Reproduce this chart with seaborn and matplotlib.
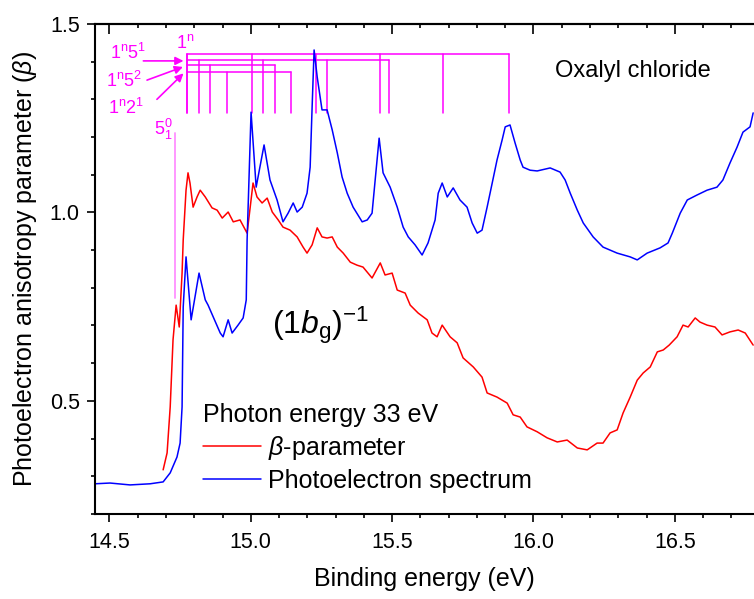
import numpy as np
import pandas as pd
import matplotlib
matplotlib.use("Agg")
import matplotlib.pyplot as plt
from matplotlib.ticker import MultipleLocator, FormatStrFormatter
import seaborn as sns

# --- data ---
pes_energy = [14.449, 14.502, 14.573, 14.644, 14.690, 14.715, 14.739, 14.750, 14.757, 14.761,
              14.771, 14.789, 14.817, 14.839, 14.849, 14.867, 14.892, 14.902, 14.920, 14.934,
              14.955, 14.973, 14.984, 14.987, 15.001, 15.019, 15.047, 15.068, 15.093, 15.114,
              15.132, 15.150, 15.164, 15.182, 15.199, 15.210, 15.217, 15.224, 15.235, 15.252,
              15.270, 15.288, 15.306, 15.323, 15.341, 15.362, 15.394, 15.412, 15.429, 15.440,
              15.454, 15.468, 15.493, 15.518, 15.539, 15.557, 15.581, 15.606, 15.627, 15.652,
              15.663, 15.677, 15.695, 15.716, 15.740, 15.765, 15.783, 15.801, 15.818, 15.836,
              15.854, 15.871, 15.889, 15.900, 15.917, 15.935, 15.953, 15.963, 15.988, 16.013,
              16.059, 16.094, 16.112, 16.130, 16.155, 16.176, 16.211, 16.246, 16.296, 16.342,
              16.367, 16.402, 16.448, 16.476, 16.491, 16.519, 16.544, 16.578, 16.614, 16.649,
              16.670, 16.695, 16.720, 16.741, 16.766, 16.777]
pes_signal = [0.280, 0.282, 0.277, 0.280, 0.285, 0.309, 0.351, 0.388, 0.484, 0.749,
              0.882, 0.715, 0.839, 0.768, 0.754, 0.723, 0.680, 0.670, 0.715, 0.680,
              0.701, 0.720, 0.768, 0.927, 1.266, 1.067, 1.179, 1.086, 1.033, 0.975,
              0.998, 1.025, 1.001, 1.014, 1.051, 1.120, 1.280, 1.431, 1.359, 1.272,
              1.272, 1.219, 1.158, 1.094, 1.051, 1.014, 0.975, 0.980, 0.998, 1.086,
              1.197, 1.105, 1.067, 1.014, 0.961, 0.935, 0.914, 0.887, 0.919, 0.980,
              1.051, 1.078, 1.041, 1.065, 1.033, 1.014, 0.972, 0.945, 0.953, 1.014,
              1.078, 1.139, 1.192, 1.227, 1.232, 1.184, 1.139, 1.120, 1.112, 1.110,
              1.118, 1.107, 1.086, 1.051, 1.006, 0.972, 0.935, 0.908, 0.892, 0.882,
              0.874, 0.892, 0.906, 0.919, 0.945, 0.998, 1.033, 1.046, 1.059, 1.067,
              1.086, 1.131, 1.173, 1.213, 1.227, 1.264]

beta_energy = [14.690, 14.704, 14.715, 14.725, 14.736, 14.747, 14.757, 14.761, 14.771, 14.778,
               14.785, 14.796, 14.810, 14.821, 14.839, 14.863, 14.881, 14.899, 14.920, 14.938,
               14.962, 14.987, 14.998, 15.008, 15.022, 15.040, 15.058, 15.076, 15.097, 15.114,
               15.139, 15.164, 15.185, 15.199, 15.217, 15.235, 15.252, 15.270, 15.288, 15.306,
               15.327, 15.352, 15.376, 15.397, 15.429, 15.458, 15.475, 15.500, 15.518, 15.546,
               15.564, 15.592, 15.624, 15.641, 15.659, 15.677, 15.705, 15.730, 15.751, 15.787,
               15.818, 15.836, 15.871, 15.907, 15.928, 15.953, 15.977, 16.013, 16.048, 16.084,
               16.119, 16.155, 16.190, 16.225, 16.246, 16.271, 16.296, 16.317, 16.342, 16.367,
               16.388, 16.413, 16.438, 16.459, 16.480, 16.508, 16.529, 16.547, 16.572, 16.589,
               16.614, 16.642, 16.667, 16.695, 16.724, 16.749, 16.777]
beta_value = [0.317, 0.362, 0.484, 0.662, 0.754, 0.696, 0.839, 0.927, 1.059, 1.105,
              1.078, 1.014, 1.041, 1.059, 1.041, 1.012, 1.006, 0.985, 1.001, 0.975,
              0.980, 0.945, 1.014, 1.078, 1.041, 1.025, 1.038, 1.001, 0.980, 0.961,
              0.953, 0.935, 0.908, 0.892, 0.914, 0.959, 0.935, 0.932, 0.935, 0.908,
              0.892, 0.868, 0.860, 0.855, 0.826, 0.866, 0.834, 0.839, 0.794, 0.786,
              0.754, 0.733, 0.715, 0.680, 0.670, 0.701, 0.670, 0.654, 0.614, 0.590,
              0.563, 0.521, 0.510, 0.494, 0.463, 0.457, 0.431, 0.418, 0.402, 0.391,
              0.396, 0.375, 0.370, 0.388, 0.388, 0.415, 0.423, 0.468, 0.510, 0.555,
              0.574, 0.590, 0.630, 0.635, 0.648, 0.670, 0.701, 0.696, 0.720, 0.709,
              0.701, 0.696, 0.675, 0.683, 0.688, 0.680, 0.648]

# vibrational progressions (comb positions, eV) and the heights of their bars
comb_1n = [14.774, 15.005, 15.231, 15.458, 15.680, 15.914]
comb_1n5_1 = [14.816, 15.045, 15.269, 15.490]
comb_1n5_2 = [14.857, 15.084]
comb_1n2_1 = [14.915, 15.144]
comb_levels = [1.420, 1.404, 1.390, 1.373]
comb_bottom = 1.264
hot_band = 14.732

# --- style ---
sns.set_style("ticks")
plt.rcParams["font.family"] = ["Liberation Sans", "DejaVu Sans"]
plt.rcParams["mathtext.fontset"] = "custom"
plt.rcParams["mathtext.rm"] = "Liberation Sans"
plt.rcParams["mathtext.it"] = "Liberation Sans:italic"
plt.rcParams["mathtext.default"] = "regular"
for key in ["text.color", "axes.labelcolor", "xtick.color", "ytick.color", "axes.edgecolor"]:
    plt.rcParams[key] = "black"

fig = plt.figure(figsize=(7.54, 5.99), dpi=100)
ax = fig.add_axes([0.126, 0.142, 0.874, 0.818])

mag = "#ff00ff"

# progression combs
origin = comb_1n[0]
for comb, lev in zip([comb_1n, comb_1n5_1, comb_1n5_2, comb_1n2_1], comb_levels):
    ax.plot([origin, comb[-1]], [lev, lev], color=mag, lw=1.1)
    for e in comb:
        ax.plot([e, e], [lev, comb_bottom], color=mag, lw=1.1)
ax.plot([origin, origin], [comb_levels[0], comb_bottom], color=mag, lw=1.1)
ax.plot([hot_band, hot_band], [1.211, 0.773], color="#ff90ff", lw=1.3)

sns.lineplot(x=beta_energy, y=beta_value, color="#ff0000", lw=1.1, ax=ax,
             label=r"$\mathit{\beta}$-parameter", estimator=None)
sns.lineplot(x=pes_energy, y=pes_signal, color="#0000ff", lw=1.1, ax=ax,
             label="Photoelectron spectrum", estimator=None)

# labels for the combs
fs_ann = 13
ax.text(14.768, 1.449, r"$1^{n}$", color=mag, fontsize=fs_ann, ha="center", va="center")
ax.text(14.566, 1.423, r"$1^{n}5^{1}$", color=mag, fontsize=fs_ann, ha="center", va="center")
ax.text(14.552, 1.349, r"$1^{n}5^{2}$", color=mag, fontsize=fs_ann, ha="center", va="center")
ax.text(14.559, 1.277, r"$1^{n}2^{1}$", color=mag, fontsize=fs_ann, ha="center", va="center")
ax.text(14.690, 1.219, r"$5^{0}_{1}$", color=mag, fontsize=fs_ann, ha="center", va="center")
arrow = dict(arrowstyle="-|>", color=mag, lw=1.2, mutation_scale=12, shrinkA=0, shrinkB=0)
ax.annotate("", xy=(14.762, 1.402), xytext=(14.620, 1.402), arrowprops=arrow)
ax.annotate("", xy=(14.760, 1.386), xytext=(14.633, 1.351), arrowprops=arrow)
ax.annotate("", xy=(14.762, 1.369), xytext=(14.668, 1.300), arrowprops=arrow)

ax.text(16.353, 1.376, "Oxalyl chloride", fontsize=17, ha="center", va="center")
ax.text(15.245, 0.700, r"$(1\mathit{b}_{\mathrm{g}})^{-1}$", fontsize=23, ha="center", va="center")

leg = ax.legend(title="Photon energy 33 eV", loc="upper left", bbox_to_anchor=(0.157, 0.237),
                frameon=False, fontsize=18, title_fontsize=18, alignment="left",
                handlelength=2.3, handletextpad=0.3, labelspacing=0.28, borderpad=0.2,
                borderaxespad=0.0)

ax.set_xlim(14.449, 16.78)
ax.set_ylim(0.2, 1.5)
ax.xaxis.set_major_locator(MultipleLocator(0.5))
ax.xaxis.set_minor_locator(MultipleLocator(0.1))
ax.yaxis.set_major_locator(MultipleLocator(0.5))
ax.yaxis.set_minor_locator(MultipleLocator(0.1))
ax.xaxis.set_major_formatter(FormatStrFormatter("%.1f"))
ax.yaxis.set_major_formatter(FormatStrFormatter("%.1f"))
ax.tick_params(axis="both", which="major", length=6, width=1.2, labelsize=15.5, direction="out")
ax.tick_params(axis="both", which="minor", length=3, width=1.2, direction="out")
ax.tick_params(axis="x", which="major", pad=7)
ax.tick_params(axis="y", which="major", pad=5)
sec = ax.secondary_xaxis("top")
sec.xaxis.set_major_locator(MultipleLocator(0.5))
sec.xaxis.set_minor_locator(MultipleLocator(0.1))
sec.tick_params(which="major", direction="in", length=7, width=1.2, labeltop=False)
sec.tick_params(which="minor", direction="in", length=3, width=1.2)
sec.spines["top"].set_linewidth(1.5)
for s in ["left", "bottom", "top"]:
    ax.spines[s].set_linewidth(1.5)
ax.spines["right"].set_visible(False)

ax.set_xlabel("Binding energy (eV)", fontsize=18, labelpad=10)
ax.set_ylabel(r"Photoelectron anisotropy parameter ($\mathit{\beta}$)", fontsize=18, labelpad=8)

fig.savefig("out.png", dpi=100)
